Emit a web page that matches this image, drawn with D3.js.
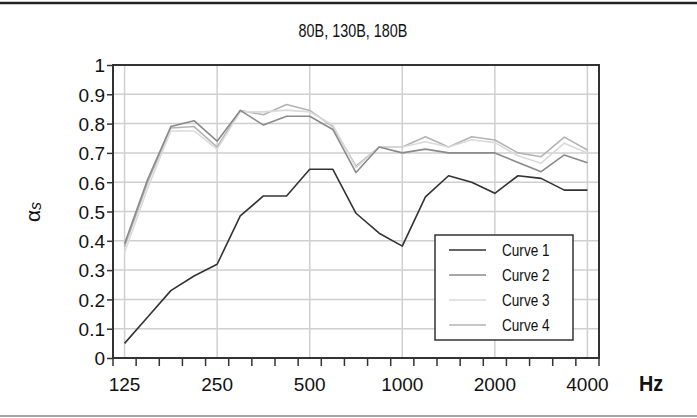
<!DOCTYPE html>
<html>
<head>
<meta charset="utf-8">
<script src="https://cdn.jsdelivr.net/npm/d3@7"></script>
<style>
  body { margin: 0; background: #fff; }
  text { font-family: "Liberation Sans", Arial, sans-serif; fill: #111; }
</style>
</head>
<body>
<svg id="viz"></svg>
<script>
var width = 697;
var height = 418;

// 21 bands, labelled every 4th
var bands = d3.range(21);
var tickIndex = [0, 4, 8, 12, 16, 20];
var tickLabels = ["125", "250", "500", "1000", "2000", "4000"];
var yTicks = [0, 0.1, 0.2, 0.3, 0.4, 0.5, 0.6, 0.7, 0.8, 0.9, 1];
var yTickLabels = ["0", "0.1", "0.2", "0.3", "0.4", "0.5", "0.6", "0.7", "0.8", "0.9", "1"];

var curve1 = [0.05, 0.14, 0.23, 0.28, 0.32, 0.485, 0.553, 0.553, 0.644, 0.644, 0.494, 0.426, 0.382, 0.55, 0.622, 0.60, 0.562, 0.622, 0.613, 0.573, 0.573];
var curve2 = [0.39, 0.61, 0.79, 0.81, 0.74, 0.845, 0.795, 0.825, 0.825, 0.78, 0.633, 0.72, 0.70, 0.713, 0.70, 0.70, 0.70, 0.667, 0.636, 0.693, 0.666];
var curve3 = [0.36, 0.58, 0.775, 0.775, 0.713, 0.84, 0.84, 0.846, 0.84, 0.795, 0.65, 0.72, 0.72, 0.738, 0.72, 0.745, 0.735, 0.69, 0.665, 0.733, 0.70];
var curve4 = [0.38, 0.60, 0.785, 0.79, 0.72, 0.845, 0.83, 0.865, 0.845, 0.79, 0.655, 0.72, 0.72, 0.755, 0.72, 0.755, 0.744, 0.70, 0.687, 0.754, 0.71];

var seriesNames = ["Curve 1", "Curve 2", "Curve 3", "Curve 4"];
var seriesValues = [curve1, curve2, curve3, curve4];
var colors = ["#333333", "#8a8a8a", "#dadada", "#b4b4b4"];

var plotL = 113, plotR = 599, plotT = 65, plotB = 358;

var svg = d3.select("#viz")
	.attr("width", width)
	.attr("height", height)
	.style("display", "block")

var x = d3.scaleBand().domain(bands).range([plotL, plotR]).paddingInner(0).paddingOuter(0)
var y = d3.scaleLinear().domain([0, 1]).range([plotB, plotT])
var cx = i => x(i) + x.bandwidth()/2

// narrow-looking text: squeeze horizontally around the anchor point
function narrow(sel, px, py, k) {
	sel.attr("transform", "translate(" + px + "," + py + ") scale(" + k + ",1)")
}

// outer frame
svg.append("line").attr("x1", 0).attr("x2", width).attr("y1", 3).attr("y2", 3)
	.style("stroke", "#222").style("stroke-width", 2.5)
svg.append("line").attr("x1", 0).attr("x2", width).attr("y1", 416).attr("y2", 416)
	.style("stroke", "#888").style("stroke-width", 1.5)

svg.append("text")
	.attr("text-anchor", "middle")
	.style("font-size", "18px")
	.text("80B, 130B, 180B")
	.call(narrow, 353, 37, 0.8)

// grid
svg.selectAll(".hgrid")
	.data(yTicks.slice(1, -1))
	.join("line")
	.attr("class", "hgrid")
	.attr("x1", plotL).attr("x2", plotR)
	.attr("y1", d => y(d)).attr("y2", d => y(d))
	.style("stroke", "#cfcfcf").style("stroke-width", 1.5)

svg.selectAll(".vgrid")
	.data(tickIndex)
	.join("line")
	.attr("class", "vgrid")
	.attr("x1", d => cx(d)).attr("x2", d => cx(d))
	.attr("y1", plotT).attr("y2", plotB)
	.style("stroke", "#cfcfcf").style("stroke-width", 1.5)

// curves
var line = d3.line().x((d, i) => cx(i)).y(d => y(d))

svg.selectAll(".curve")
	.data(seriesValues.slice().reverse())
	.join("path")
	.attr("class", "curve")
	.attr("d", d => line(d))
	.style("fill", "none")
	.style("stroke", (d, i) => colors[3 - i])
	.style("stroke-width", 1.6)
	.style("stroke-linejoin", "round")

// plot frame
svg.append("rect")
	.attr("x", plotL).attr("y", plotT)
	.attr("width", plotR - plotL).attr("height", plotB - plotT)
	.style("fill", "none").style("stroke", "#333").style("stroke-width", 2)

// y axis
var yAxis = d3.axisLeft(y).tickValues(yTicks).tickFormat((d, i) => yTickLabels[i]).tickSize(6).tickPadding(2)
var gy = svg.append("g").attr("transform", "translate(" + plotL + ",0)").call(yAxis)
gy.select(".domain").remove()
gy.selectAll("line").style("stroke", "#333").style("stroke-width", 1.5)
gy.selectAll("text").style("font-size", "19px").style("fill", "#111").attr("dy", "0.36em")

// x axis: tick marks at band edges
var edges = bands.map(i => x(i)).concat([plotR])
svg.selectAll(".xtick")
	.data(edges)
	.join("line")
	.attr("class", "xtick")
	.attr("x1", d => d).attr("x2", d => d)
	.attr("y1", plotB).attr("y2", plotB + 8)
	.style("stroke", "#333").style("stroke-width", 1.5)

svg.selectAll(".xlabel")
	.data(tickIndex)
	.join("text")
	.attr("class", "xlabel")
	.attr("x", d => cx(d)).attr("y", 391)
	.attr("text-anchor", "middle")
	.style("font-size", "19px")
	.text((d, i) => tickLabels[i])

svg.append("text")
	.attr("text-anchor", "middle")
	.style("font-size", "22px").style("font-weight", "bold")
	.text("Hz")
	.call(narrow, 651, 391, 0.9)

var ylab = svg.append("text")
	.attr("transform", "translate(40," + 212 + ") rotate(-90)")
	.attr("text-anchor", "middle")
	.style("font-size", "21px")
ylab.append("tspan").text("α")
ylab.append("tspan").attr("dy", 1).style("font-size", "16px").style("font-style", "italic").text("s")

// legend
var legend = svg.append("g").attr("transform", "translate(435,235)")
legend.append("rect")
	.attr("width", 138).attr("height", 105)
	.style("fill", "#fff").style("stroke", "#333").style("stroke-width", 1.5)

var rows = legend.selectAll(".row")
	.data(seriesNames)
	.join("g")
	.attr("class", "row")
	.attr("transform", (d, i) => "translate(0," + (15 + i * 25) + ")")

rows.append("line")
	.attr("x1", 14).attr("x2", 51)
	.style("stroke", (d, i) => colors[i]).style("stroke-width", 1.6)

rows.append("text")
	.style("font-size", "16px")
	.text(d => d)
	.call(narrow, 67, 6, 0.85)
</script>
</body>
</html>
